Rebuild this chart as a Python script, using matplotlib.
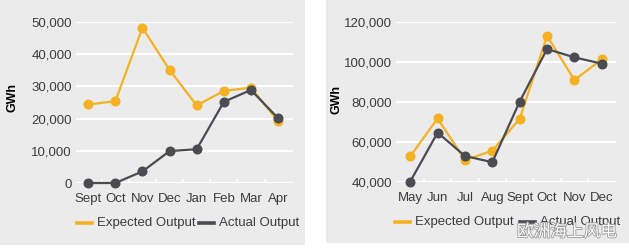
import matplotlib
matplotlib.use("Agg")
import matplotlib.pyplot as plt
from matplotlib.patches import Rectangle
from matplotlib.lines import Line2D
import matplotlib.patheffects as pe
import numpy as np

plt.rcParams['font.family'] = ['Liberation Sans', 'DejaVu Sans']

# Left chart data
left_months = ["Sept", "Oct", "Nov", "Dec", "Jan", "Feb", "Mar", "Apr"]
left_expected = [24400, 25400, 48200, 35100, 24100, 28600, 29600, 19200]
left_actual = [0, 0, 3600, 9900, 10500, 25200, 28900, 20100]
left_yticks = [0, 10000, 20000, 30000, 40000, 50000]

# Right chart data
right_months = ["May", "Jun", "Jul", "Aug", "Sept", "Oct", "Nov", "Dec"]
right_expected = [52800, 71800, 51000, 55600, 71600, 113100, 91000, 101300]
right_actual = [40200, 64700, 53000, 49900, 80200, 106500, 102300, 99200]
right_yticks = [40000, 60000, 80000, 100000, 120000]

series_names = ["Expected Output", "Actual Output"]

BG = "#ebebeb"
YEL = "#f4b223"
DARK = "#4b4b52"
TXT = "#3c3c3c"

W, H = 629, 248
fig = plt.figure(figsize=(W / 100, H / 100), dpi=100)
fig.patch.set_facecolor("white")

def px(x0, x1, ytop, ybot):
    return [x0 / W, (H - ybot) / H, (x1 - x0) / W, (ybot - ytop) / H]

# panel backgrounds
fig.add_artist(Rectangle((0, 3 / H), 305 / W, (H - 3) / H, transform=fig.transFigure,
                         facecolor=BG, edgecolor="none", zorder=0))
fig.add_artist(Rectangle((326 / W, 5 / H), (W - 326) / W, (H - 5) / H, transform=fig.transFigure,
                         facecolor=BG, edgecolor="none", zorder=0))

def draw(ax, months, exp, act, yticks, xlim):
    x = np.arange(len(months))
    ax.set_facecolor(BG)
    for s in ax.spines.values():
        s.set_visible(False)
    ax.set_ylim(yticks[0], yticks[-1])
    ax.set_xlim(*xlim)
    ax.set_yticks(yticks)
    ax.set_yticklabels([f"{v:,}" for v in yticks])
    ax.set_xticks(x)
    ax.set_xticklabels(months)
    ax.tick_params(axis="both", length=0, labelsize=9.5, labelcolor=TXT)
    ax.tick_params(axis="y", pad=3)
    ax.tick_params(axis="x", pad=7)
    for v in yticks:
        ax.axhline(v, color="white", lw=1.6, zorder=1)
    # small boundary ticks on baseline
    for b in np.arange(0.5, len(months) - 0.5, 1.0):
        ax.plot([b, b], [yticks[0], yticks[0] + (yticks[-1] - yticks[0]) * 0.02],
                color="white", lw=1.2, zorder=1)
    ax.plot(x, exp, color=YEL, lw=1.6, marker="o", ms=6.2, zorder=3, clip_on=False)
    ax.plot(x, act, color=DARK, lw=1.6, marker="o", ms=6.2, zorder=4, clip_on=False)
    ax.set_ylabel("GWh", fontsize=9, fontweight="bold", color="black")

axL = fig.add_axes(px(76, 293, 22, 183))
draw(axL, left_months, left_expected, left_actual, left_yticks, (-0.45, 7.55))
axL.yaxis.set_label_coords(19 / W, (H - 97) / H, transform=fig.transFigure)

axR = fig.add_axes(px(396, 616, 22, 182))
draw(axR, right_months, right_expected, right_actual, right_yticks, (-0.52, 7.52))
axR.yaxis.set_label_coords(342 / W, (H - 100) / H, transform=fig.transFigure)

def legend(xs, y):
    # xs: (handle start of series1, handle start of series2)
    for (hx, name, col) in zip(xs, series_names, [YEL, DARK]):
        fig.add_artist(Line2D([hx / W, (hx + 15) / W], [(H - y) / H] * 2,
                              transform=fig.transFigure, color=col, lw=2.6))
        fig.text((hx + 20) / W, (H - y) / H, name, fontsize=9.5, color=TXT,
                 va="center", ha="left")

legend((77, 199), 223)
legend((395, 520), 222)

# watermark
fig.text(517 / W, (H - 232) / H, "欧洲海上风电", fontsize=12,
         family=["Noto Sans CJK SC", "DejaVu Sans"], color="white",
         va="center", ha="left",
         path_effects=[pe.withStroke(linewidth=1.2, foreground="#9a9a9a")])

fig.savefig("out.png", dpi=100, facecolor=fig.get_facecolor())
